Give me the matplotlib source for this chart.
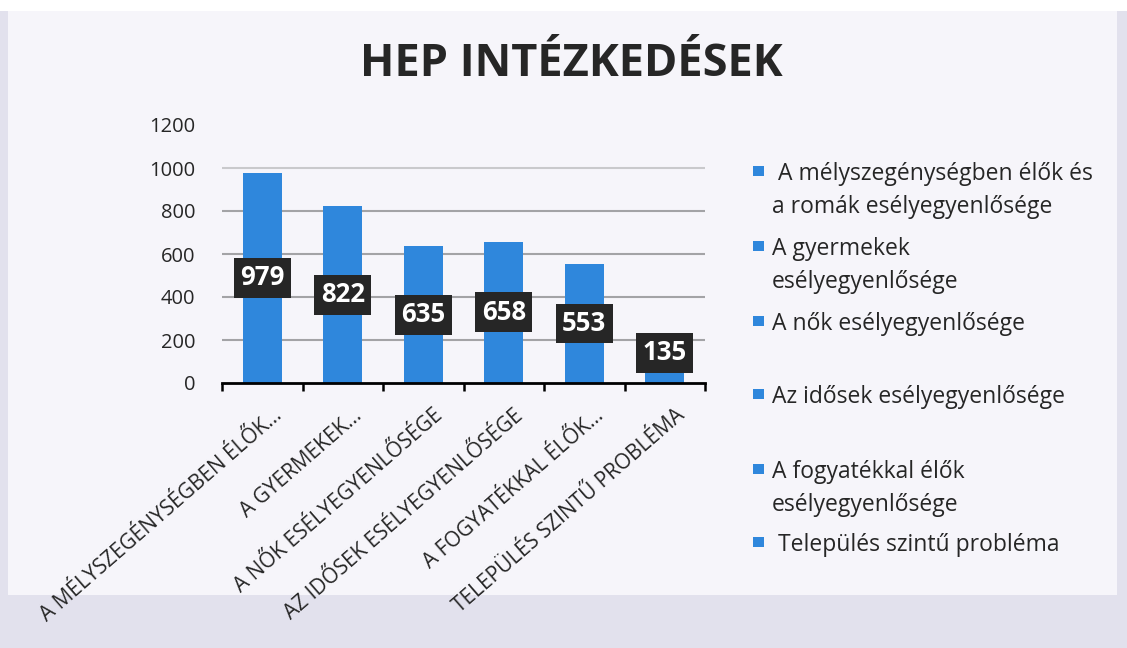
import matplotlib
matplotlib.use('Agg')
import matplotlib.pyplot as plt
from matplotlib.patches import Rectangle
from matplotlib.transforms import ScaledTranslation

plt.rcParams['font.family'] = ['Open Sans', 'DejaVu Sans']

categories = ['A MÉLYSZEGÉNYSÉGBEN ÉLŐK...', 'A GYERMEKEK...', 'A NŐK ESÉLYEGYENLŐSÉGE',
              'AZ IDŐSEK ESÉLYEGYENLŐSÉGE', 'A FOGYATÉKKAL ÉLŐK...', 'TELEPÜLÉS SZINTŰ PROBLÉMA']
values = [979, 822, 635, 658, 553, 135]
legend_labels = [' A mélyszegénységben élők és\na romák esélyegyenlősége',
                 'A gyermekek\nesélyegyenlősége',
                 'A nők esélyegyenlősége',
                 'Az idősek esélyegyenlősége',
                 'A fogyatékkal élők\nesélyegyenlősége',
                 ' Település szintű probléma']
yticks = [0, 200, 400, 600, 800, 1000, 1200]

W, H = 1127, 648
bar_color = '#2f87dc'
txt_color = '#262626'

fig = plt.figure(figsize=(W / 100, H / 100), dpi=100, facecolor='#e2e1ed')
# scanned slide look: light panel, white strip at top
fig.add_artist(Rectangle((8 / W, 1 - 595 / H), (1117 - 8) / W, (595 - 11) / H,
                         transform=fig.transFigure, fc='#f6f5fa', ec='none', zorder=0))
fig.add_artist(Rectangle((0, 1 - 11 / H), 1, 11 / H,
                         transform=fig.transFigure, fc='white', ec='none', zorder=0))

ax = fig.add_axes([222 / W, 1 - 383 / H, 483 / W, 258 / H])
ax.patch.set_alpha(0)

x = list(range(len(values)))
bars = ax.bar(x, values, width=0.48, color=bar_color, zorder=2)
ax.set_xlim(-0.5, len(values) - 0.5)
ax.set_ylim(0, 1200)

# gridlines (top one invisible, 1000 faint like the scan)
for y in yticks[1:-1]:
    c = '#c9c9cc' if y == 1000 else '#a3a3a6'
    ax.axhline(y, color=c, lw=1.5, zorder=1)

ax.set_yticks(yticks)
ax.tick_params(axis='y', length=0, pad=19, labelsize=14.5, labelcolor=txt_color)

for s in ['left', 'top', 'right']:
    ax.spines[s].set_visible(False)
ax.spines['bottom'].set_linewidth(2)
ax.spines['bottom'].set_color('black')
ax.spines['bottom'].set_zorder(3)

ax.set_xticks(x)
ax.set_xticklabels(categories, rotation=41, ha='right', rotation_mode='anchor',
                   fontsize=15, color=txt_color)
ax.set_xticks([i - 0.5 for i in range(len(values) + 1)], minor=True)
ax.tick_params(axis='x', which='major', length=0, pad=16)
ax.tick_params(axis='x', which='minor', length=6, width=1.8, color='black', direction='out')
shift = ScaledTranslation(0.10, 0, fig.dpi_scale_trans)
for lab in ax.get_xticklabels():
    lab.set_transform(lab.get_transform() + shift)

# data labels in dark boxes, at mid-height of the bar
for i, v in enumerate(values):
    ax.text(i, max(v / 2, 140), str(v), ha='center', va='center', color='white',
            fontsize=18.5, fontweight='bold', zorder=5,
            bbox=dict(boxstyle='square,pad=0.25', fc='#262626', ec='none'))

# title
fig.text(571 / W, 1 - 64 / H, 'HEP INTÉZKEDÉSEK', ha='center', va='center',
         fontsize=32.5, fontweight='bold', color=txt_color)

# legend, placed entry by entry like the original
leg_y = [172, 247, 322, 395, 470, 543]
for lab, yy in zip(legend_labels, leg_y):
    fig.add_artist(Rectangle(((758 - 5.5) / W, 1 - (yy + 4) / H), 11 / W, 10 / H,
                             transform=fig.transFigure, fc=bar_color, ec='none'))
    fig.text(772 / W, 1 - (yy - 10) / H, lab, ha='left', va='top', fontsize=16.5,
             color=txt_color, linespacing=1.5)

fig.savefig('out.png', dpi=100)
